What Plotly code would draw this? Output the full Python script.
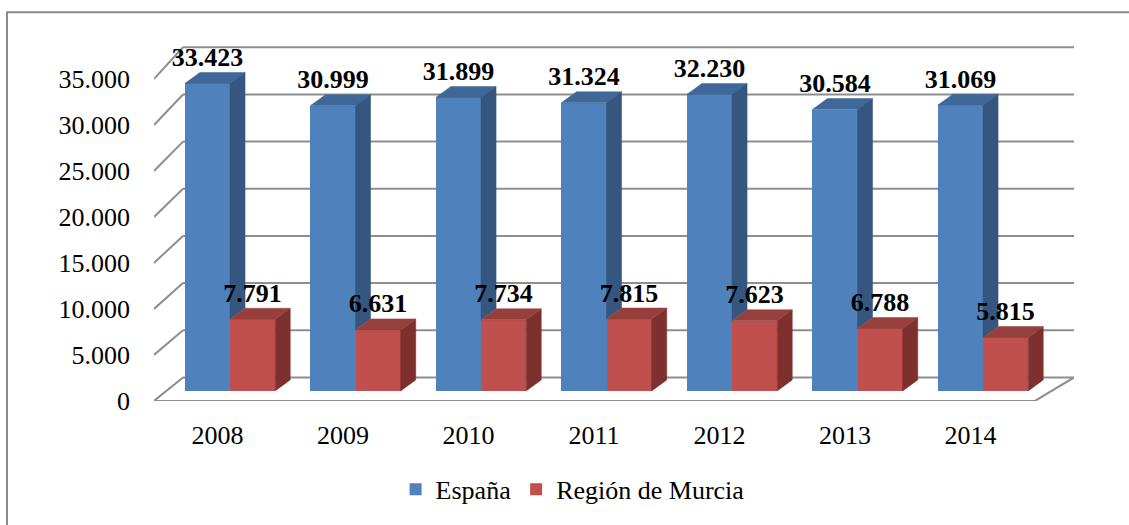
import plotly.graph_objects as go

# ---- data ----
years = ["2008", "2009", "2010", "2011", "2012", "2013", "2014"]
espana = [33423, 30999, 31899, 31324, 32230, 30584, 31069]
murcia = [7791, 6631, 7734, 7815, 7623, 6788, 5815]
tick_values = [0, 5000, 10000, 15000, 20000, 25000, 30000, 35000]
tick_labels = ["0", "5.000", "10.000", "15.000", "20.000", "25.000", "30.000", "35.000"]

# ---- styling / 3D frame constants ----
FONT = "Liberation Serif, Times New Roman, serif"
BLUE, BLUE_SIDE, BLUE_TOP = "#4F81BD", "#35577F", "#3F6899"
RED, RED_SIDE, RED_TOP = "#C0504D", "#7D302E", "#96403D"
GRID = "#8E8E8E"
W = 0.36          # bar width (category units)
DDX = 0.12        # bar depth, x
DDY = 1190        # bar depth, y (data units)
FRONT_Y = -1090   # front plane offset of floor / tick labels
BACK_X0, BACK_X1 = -0.3745, 6.725
FRONT_X0, FRONT_X1 = -0.6056, 6.414


def back_y(v):
    return 1459 + 1.0255 * v


idx = list(range(len(years)))
fig = go.Figure()

# front faces (real bars)
fig.add_trace(go.Bar(x=idx, y=espana, offset=-W, width=W, name="España",
                     marker=dict(color=BLUE, line=dict(width=0))))
fig.add_trace(go.Bar(x=idx, y=murcia, offset=0, width=W, name="Región de Murcia",
                     marker=dict(color=RED, line=dict(width=0))))


def poly(xs, ys, color):
    fig.add_trace(go.Scatter(x=xs + [xs[0]], y=ys + [ys[0]], mode="lines", fill="toself",
                             fillcolor=color, line=dict(width=0.5, color=color),
                             hoverinfo="skip", showlegend=False))


for i, (vb, vr) in enumerate(zip(espana, murcia)):
    # blue top face
    x0, x1 = i - W, i
    poly([x0, x1, x1 + DDX, x0 + DDX], [vb, vb, vb + DDY, vb + DDY], BLUE_TOP)
    # blue side face (visible part above the red bar)
    poly([x1, x1 + DDX, x1 + DDX, x1], [vr, vr + DDY, vb + DDY, vb], BLUE_SIDE)
    # red side + top
    x0, x1 = i, i + W
    poly([x1, x1 + DDX, x1 + DDX, x1], [0, DDY, vr + DDY, vr], RED_SIDE)
    poly([x0, x1, x1 + DDX, x0 + DDX], [vr, vr, vr + DDY, vr + DDY], RED_TOP)


def fmt(v):
    return f"{v:,}".replace(",", ".")


fig.add_trace(go.Scatter(x=[i - W / 2 for i in idx], y=[v + DDY for v in espana],
                         mode="text", text=[fmt(v) for v in espana], textposition="top center",
                         textfont=dict(family=FONT, size=26, color="black", weight="bold"),
                         cliponaxis=False, showlegend=False, hoverinfo="skip"))
fig.add_trace(go.Scatter(x=[i + W / 2 for i in idx], y=[v + DDY for v in murcia],
                         mode="text", text=[fmt(v) for v in murcia], textposition="top center",
                         textfont=dict(family=FONT, size=26, color="black", weight="bold"),
                         cliponaxis=False, showlegend=False, hoverinfo="skip"))

shapes = []
for v in tick_values:
    shapes.append(dict(type="line", xref="x", yref="y", x0=BACK_X0, x1=BACK_X1,
                       y0=back_y(v), y1=back_y(v), line=dict(color=GRID, width=2), layer="below"))
    shapes.append(dict(type="line", xref="x", yref="y", x0=FRONT_X0, x1=BACK_X0,
                       y0=FRONT_Y + v, y1=back_y(v), line=dict(color=GRID, width=2), layer="below"))
# floor outline
shapes.append(dict(type="line", xref="x", yref="y", x0=FRONT_X0, x1=FRONT_X1,
                   y0=FRONT_Y, y1=FRONT_Y, line=dict(color=GRID, width=2), layer="below"))
shapes.append(dict(type="line", xref="x", yref="y", x0=FRONT_X1, x1=BACK_X1,
                   y0=FRONT_Y, y1=back_y(0), line=dict(color=GRID, width=2), layer="below"))
# chart border
shapes.append(dict(type="rect", xref="paper", yref="paper", x0=-0.1598, x1=1.3,
                   y0=-0.6, y1=1.0771, line=dict(color="#8A8A8A", width=2), layer="below"))

fig.update_layout(
    width=1129, height=525, autosize=False,
    margin=dict(l=154, r=55, t=40, b=122),
    paper_bgcolor="white", plot_bgcolor="rgba(0,0,0,0)",
    barmode="overlay", bargap=0,
    font=dict(family=FONT, size=26, color="black"),
    shapes=shapes,
    showlegend=True,
    legend=dict(orientation="h", x=0.455, xanchor="center", y=-0.245, yanchor="middle",
                font=dict(family=FONT, size=26), traceorder="normal"),
    xaxis=dict(range=[FRONT_X0, BACK_X1], tickvals=[i - 0.1 for i in idx], ticktext=years,
               showgrid=False, zeroline=False, showline=False, ticks="",
               ticklabelstandoff=16, tickfont=dict(family=FONT, size=26)),
    yaxis=dict(range=[-1100, 38143], tickvals=[FRONT_Y + v for v in tick_values],
               ticktext=tick_labels, showgrid=False, zeroline=False, showline=False,
               ticks="", ticklabelstandoff=23, tickfont=dict(family=FONT, size=26)),
)

fig.write_html("out.html", config={"displayModeBar": False},
               post_script="document.body.style.margin='0';")
